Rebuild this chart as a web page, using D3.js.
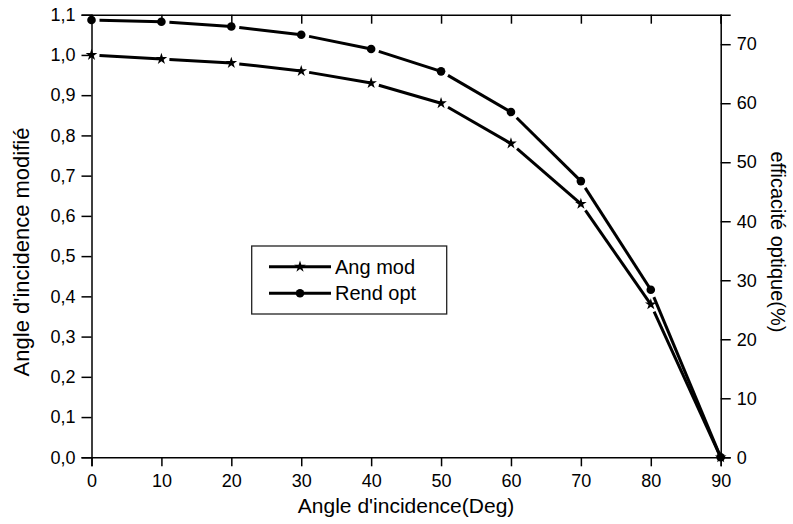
<!DOCTYPE html>
<html>
<head>
<meta charset="utf-8">
<script src="https://cdn.jsdelivr.net/npm/d3@7"></script>
<style>
  body { margin: 0; background: #fff; }
  text { font-family: "Liberation Sans", Arial, sans-serif; fill: #000; }
</style>
</head>
<body>
<svg class="chart" width="793" height="524"></svg>
<script>
// data
var angles = [0, 10, 20, 30, 40, 50, 60, 70, 80, 90];
var angMod = [1.0, 0.99, 0.98, 0.96, 0.93, 0.88, 0.78, 0.63, 0.38, 0.0];
var rendOpt = [74.1, 73.8, 73.0, 71.6, 69.2, 65.4, 58.5, 46.8, 28.4, 0];
var leftTicks = [0, 0.1, 0.2, 0.3, 0.4, 0.5, 0.6, 0.7, 0.8, 0.9, 1.0, 1.1];
var rightTicks = [0, 10, 20, 30, 40, 50, 60, 70];
var xTicks = [0, 10, 20, 30, 40, 50, 60, 70, 80, 90];
var seriesNames = ["Ang mod", "Rend opt"];

var svg = d3.select("svg.chart");
var x0 = 91.5, x1 = 720.7, yTop = 14.7, yBot = 457.3;

var x = d3.scaleLinear().domain([0, 90]).range([x0, x1]);
var yL = d3.scaleLinear().domain([0, 1.1]).range([yBot, yTop]);
var yR = d3.scaleLinear().domain([0, 75]).range([yBot, yTop]);

var comma = function(d){ return d3.format(".1f")(d).replace(".", ","); };

function minorTicks(scale, step){
  var dom = scale.domain(), out = [];
  for (var v = dom[0]; v <= dom[1] + 1e-9; v += step) out.push(+v.toFixed(4));
  return out;
}

// bottom axis
var gB = svg.append("g").attr("transform", "translate(0," + yBot + ")");
gB.call(d3.axisBottom(x).tickValues(minorTicks(x, 5)).tickSize(5).tickFormat(""));
gB.call(d3.axisBottom(x).tickValues(xTicks).tickSize(9).tickPadding(8).tickFormat(d3.format("d")));

// top axis (ticks inside)
var gT = svg.append("g").attr("transform", "translate(0," + yTop + ")");
gT.call(d3.axisTop(x).tickValues(minorTicks(x, 5)).tickSize(-5).tickFormat(""));
gT.call(d3.axisTop(x).tickValues(xTicks).tickSize(-9).tickFormat(""));

// left axis
var gL = svg.append("g").attr("transform", "translate(" + x0 + ",0)");
gL.call(d3.axisLeft(yL).tickValues(minorTicks(yL, 0.05)).tickSize(5).tickFormat(""));
gL.call(d3.axisLeft(yL).tickValues(leftTicks).tickSize(10).tickPadding(6).tickFormat(comma));

// right axis
var gR = svg.append("g").attr("transform", "translate(" + x1 + ",0)");
gR.call(d3.axisRight(yR).tickValues(minorTicks(yR, 5)).tickSize(5).tickFormat(""));
gR.call(d3.axisRight(yR).tickValues(rightTicks).tickSize(10).tickPadding(6).tickFormat(d3.format("d")));

svg.selectAll(".domain").attr("stroke", "#000").attr("stroke-width", 1.5);
svg.selectAll(".tick line").attr("stroke", "#000").attr("stroke-width", 1.5);
svg.selectAll(".tick text").style("font-size", "18px").style("font-family", "Liberation Sans, Arial, sans-serif");

// axis titles
svg.append("text").attr("x", (x0 + x1) / 2).attr("y", 513)
  .attr("text-anchor", "middle").style("font-size", "21px").text("Angle d'incidence(Deg)");
svg.append("text").attr("transform", "translate(28.5,252) rotate(-90)")
  .attr("text-anchor", "middle").style("font-size", "22px").text("Angle d'incidence modifié");
svg.append("text").attr("transform", "translate(771,242) rotate(90)")
  .attr("text-anchor", "middle").style("font-size", "20px").text("efficacité optique(%)");

// lines with a small gap after each marker
function drawSeries(pts, gap){
  var g = svg.append("g");
  for (var i = 0; i < pts.length - 1; i++) {
    var a = pts[i], b = pts[i + 1];
    var dx = b[0] - a[0], dy = b[1] - a[1], len = Math.sqrt(dx * dx + dy * dy);
    g.append("line")
      .attr("x1", a[0] + dx / len * gap).attr("y1", a[1] + dy / len * gap)
      .attr("x2", b[0]).attr("y2", b[1])
      .attr("stroke", "#000").attr("stroke-width", 3);
  }
  return g;
}

var starPts = angles.map(function(d, i){ return [x(d), yL(angMod[i])]; });
var dotPts = angles.map(function(d, i){ return [x(d), yR(rendOpt[i])]; });

drawSeries(starPts, 8);
drawSeries(dotPts, 8);

var star = d3.symbol().type(d3.symbolStar).size(42);

svg.append("g").selectAll("path").data(starPts).enter().append("path")
  .attr("transform", function(d){ return "translate(" + d[0] + "," + d[1] + ")"; })
  .attr("d", star).attr("fill", "#000");

svg.append("g").selectAll("circle").data(dotPts).enter().append("circle")
  .attr("cx", function(d){ return d[0]; }).attr("cy", function(d){ return d[1]; })
  .attr("r", 4.3).attr("fill", "#000");

// legend
var lg = svg.append("g");
lg.append("rect").attr("x", 251.7).attr("y", 246).attr("width", 195).attr("height", 68)
  .attr("fill", "#fff").attr("stroke", "#222").attr("stroke-width", 1.3);
seriesNames.forEach(function(name, i){
  var yy = 266.7 + i * 26.6;
  lg.append("line").attr("x1", 269).attr("x2", 331).attr("y1", yy).attr("y2", yy)
    .attr("stroke", "#000").attr("stroke-width", 3);
  if (i === 0) {
    lg.append("path").attr("transform", "translate(300," + yy + ")").attr("d", star).attr("fill", "#000");
  } else {
    lg.append("circle").attr("cx", 300).attr("cy", yy).attr("r", 4.3).attr("fill", "#000");
  }
  lg.append("text").attr("x", 335).attr("y", yy + 7).style("font-size", "20px").text(name);
});
</script>
</body>
</html>
